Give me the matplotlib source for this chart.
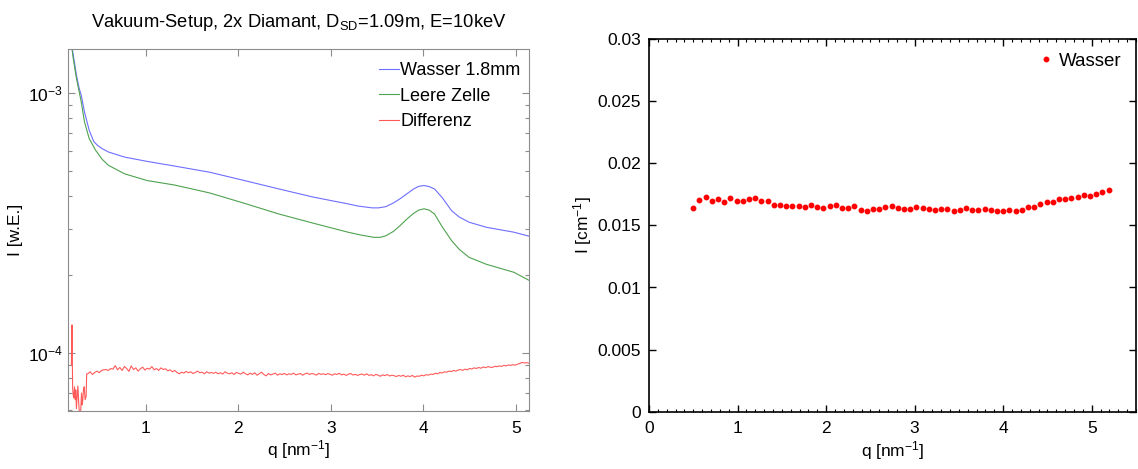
import numpy as np
import matplotlib
matplotlib.use("Agg")
import matplotlib.pyplot as plt
from matplotlib.ticker import FixedLocator, NullFormatter, MultipleLocator

plt.rcParams['font.family'] = ['Liberation Sans', 'DejaVu Sans']
plt.rcParams['mathtext.fontset'] = 'custom'
plt.rcParams['mathtext.rm'] = 'Liberation Sans'
plt.rcParams['mathtext.it'] = 'Liberation Sans'

# --- left panel: scattering curves (arbitrary units) ---
q_wasser = [0.164, 0.210, 0.251, 0.281, 0.303, 0.338, 0.389, 0.438, 0.479, 0.529,
            0.598, 0.772, 1.014, 1.31, 1.691, 2.065, 2.437, 2.812, 3.185, 3.29,
            3.446, 3.513, 3.594, 3.675, 3.745, 3.817, 3.894, 3.949, 4.006, 4.061,
            4.119, 4.203, 4.304, 4.386, 4.492, 4.679, 4.977, 5.14]
i_wasser = [1.9e-3, 1.45e-3, 1.17e-3, 1.04e-3, 9.8e-4, 8.44e-4, 7.18e-4, 6.5e-4, 6.28e-4, 6.1e-4,
            5.92e-4, 5.66e-4, 5.45e-4, 5.23e-4, 4.95e-4, 4.60e-4, 4.27e-4, 3.97e-4, 3.74e-4, 3.67e-4,
            3.61e-4, 3.61e-4, 3.65e-4, 3.77e-4, 3.91e-4, 4.08e-4, 4.27e-4, 4.37e-4, 4.40e-4, 4.36e-4,
            4.27e-4, 3.95e-4, 3.52e-4, 3.33e-4, 3.18e-4, 3.04e-4, 2.91e-4, 2.81e-4]

q_leer = [0.164, 0.216, 0.251, 0.303, 0.338, 0.389, 0.459, 0.529, 0.598, 0.772,
          1.014, 1.311, 1.691, 2.065, 2.437, 2.812, 3.185, 3.32, 3.466,
          3.533, 3.594, 3.675, 3.745, 3.817, 3.894, 3.949, 4.006, 4.061, 4.119,
          4.203, 4.304, 4.386, 4.492, 4.679, 4.977, 5.14]
i_leer = [1.9e-3, 1.36e-3, 1.137e-3, 9.23e-4, 7.73e-4, 6.67e-4, 6.01e-4, 5.55e-4, 5.26e-4, 4.88e-4,
          4.60e-4, 4.42e-4, 4.12e-4, 3.76e-4, 3.42e-4, 3.15e-4, 2.91e-4, 2.84e-4, 2.78e-4,
          2.78e-4, 2.82e-4, 2.93e-4, 3.08e-4, 3.26e-4, 3.44e-4, 3.54e-4, 3.58e-4, 3.54e-4, 3.42e-4,
          3.05e-4, 2.70e-4, 2.50e-4, 2.33e-4, 2.19e-4, 2.04e-4, 1.90e-4]

# difference curve, noisy low-q part (units of 1e-5)
q_diff_low = [0.197, 0.203, 0.210, 0.216, 0.223, 0.230, 0.237, 0.244, 0.251, 0.259,
              0.267, 0.276, 0.285, 0.296, 0.306, 0.313, 0.320, 0.327, 0.335, 0.345,
              0.356, 0.362]
d_low = [9.0, 12.8, 7.3, 6.9, 6.7, 7.4, 6.6, 7.2, 6.1, 6.8,
         7.45, 6.4, 5.7, 5.85, 7.0, 6.3, 6.6, 7.2, 7.4, 6.6,
         6.8, 8.3]
# difference curve on a regular q grid from 0.374 to 5.14, units of 1e-5
d_main = [8.30, 8.45, 8.25, 8.40, 8.50, 8.38, 8.55, 8.60,
          8.62, 8.55, 8.70, 8.65, 8.92, 8.60, 8.78, 8.55, 8.85, 8.70, 8.48, 8.90, 8.62, 8.75, 8.50, 8.68,
          8.80, 8.58, 8.72, 8.65, 8.85, 8.60, 8.70, 8.55, 8.75, 8.62, 8.68, 8.52, 8.60, 8.45, 8.55, 8.40,
          8.30, 8.42, 8.35, 8.48, 8.38, 8.45, 8.32, 8.40, 8.50, 8.38, 8.42, 8.30, 8.45, 8.35, 8.40, 8.33,
          8.42, 8.30, 8.38, 8.28, 8.45, 8.35, 8.30, 8.38, 8.25, 8.40, 8.33, 8.28, 8.42, 8.30, 8.22, 8.35,
          8.25, 8.38, 8.20, 8.30, 8.42, 8.25, 8.15, 8.32, 8.22, 8.28, 8.35, 8.20, 8.30, 8.25, 8.33, 8.22,
          8.30, 8.25, 8.35, 8.22, 8.28, 8.32, 8.20, 8.30, 8.35, 8.25, 8.32, 8.28, 8.20, 8.33, 8.26, 8.30,
          8.24, 8.32, 8.26, 8.20, 8.30, 8.25, 8.34, 8.22, 8.28, 8.18, 8.27, 8.32, 8.21, 8.26, 8.18, 8.25,
          8.28, 8.20, 8.30, 8.18, 8.24, 8.15, 8.26, 8.20, 8.12, 8.22, 8.17, 8.25, 8.14, 8.20, 8.16, 8.10,
          8.18, 8.12, 8.20, 8.08, 8.15, 8.10, 8.18, 8.06, 8.14, 8.12, 8.20, 8.15, 8.24, 8.20, 8.28, 8.25,
          8.34, 8.30, 8.40, 8.36, 8.45, 8.42, 8.50, 8.46, 8.55, 8.50, 8.58, 8.62, 8.56, 8.65, 8.60, 8.70,
          8.66, 8.75, 8.70, 8.78, 8.72, 8.82, 8.76, 8.85, 8.80, 8.78, 8.88, 8.84, 8.90, 8.86, 8.95, 8.90,
          8.98, 8.94, 9.00, 8.96, 9.04, 9.10, 9.18, 9.14, 9.16, 9.12]

# --- right panel: absolute intensity of water ---
q_abs = [0.50, 0.57, 0.64, 0.71, 0.78, 0.85, 0.92, 0.99, 1.06, 1.13,
         1.20, 1.27, 1.34, 1.41, 1.48, 1.55, 1.62, 1.69, 1.76, 1.83,
         1.90, 1.97, 2.04, 2.11, 2.18, 2.25, 2.32, 2.39, 2.46, 2.53,
         2.60, 2.67, 2.74, 2.81, 2.88, 2.95, 3.02, 3.09, 3.16, 3.23,
         3.30, 3.37, 3.44, 3.51, 3.58, 3.65, 3.72, 3.79, 3.86, 3.93,
         4.00, 4.07, 4.14, 4.21, 4.28, 4.35, 4.42, 4.49, 4.56, 4.63,
         4.70, 4.77, 4.84, 4.91, 4.98, 5.05, 5.12, 5.19]
i_abs = [0.01642, 0.01704, 0.01728, 0.01696, 0.01715, 0.01690, 0.01720, 0.01696, 0.01696, 0.01710,
         0.01718, 0.01698, 0.01698, 0.01664, 0.01669, 0.01658, 0.01658, 0.01661, 0.01650, 0.01664,
         0.01650, 0.01640, 0.01658, 0.01664, 0.01642, 0.01640, 0.01661, 0.01629, 0.01618, 0.01637,
         0.01631, 0.01648, 0.01656, 0.01642, 0.01631, 0.01631, 0.01653, 0.01645, 0.01634, 0.01629,
         0.01637, 0.01637, 0.01618, 0.01621, 0.01640, 0.01629, 0.01621, 0.01631, 0.01621, 0.01618,
         0.01618, 0.01621, 0.01613, 0.01629, 0.01650, 0.01653, 0.01674, 0.01688, 0.01688, 0.01710,
         0.01710, 0.01718, 0.01730, 0.01745, 0.01738, 0.01755, 0.01770, 0.01785]

q_diff = np.concatenate([q_diff_low, np.linspace(0.374, 5.14, len(d_main))])
i_diff = np.concatenate([d_low, d_main]) * 1e-5

W, H = 1138, 469
fig = plt.figure(figsize=(W / 100, H / 100), dpi=100)

def frac(x0, x1, ytop, ybot):
    return [x0 / W, 1 - ybot / H, (x1 - x0) / W, (ybot - ytop) / H]

FS = 12.5

# left axes
ax1 = fig.add_axes(frac(68, 529, 49, 411))
ax1.plot(q_wasser, i_wasser, color='#6e6eff', lw=0.8, label='Wasser 1.8mm')
ax1.plot(q_leer, i_leer, color='#4fa24f', lw=0.8, label='Leere Zelle')
ax1.plot(q_diff, i_diff, color='#ff5a5a', lw=0.8, label='Differenz')
ax1.set_yscale('log')
ax1.set_xlim(0.16, 5.14)
ax1.set_ylim(5.97e-5, 1.475e-3)
ax1.set_xticks([1, 2, 3, 4, 5])
ax1.set_xticklabels(['1', '2', '3', '4', '5'])
ax1.yaxis.set_major_locator(FixedLocator([1e-4, 1e-3]))
ax1.set_yticklabels(['$10^{-4}$', '$10^{-3}$'])
minor = [m * 1e-5 for m in range(6, 10)] + [m * 1e-4 for m in range(2, 10)]
ax1.yaxis.set_minor_locator(FixedLocator(minor))
ax1.yaxis.set_minor_formatter(NullFormatter())
for s in ax1.spines.values():
    s.set_color('#8c8c8c')
    s.set_linewidth(0.8)
ax1.tick_params(which='both', direction='in', top=True, right=True,
                color='#8c8c8c', labelcolor='black', labelsize=FS)
ax1.tick_params(which='major', length=5, width=0.8)
ax1.tick_params(which='minor', length=3, width=0.8)
ax1.tick_params(axis='x', pad=7)
ax1.set_xlabel('q [nm$^{-1}$]', fontsize=FS, labelpad=2)
ax1.set_ylabel('I [w.E.]', fontsize=FS, labelpad=4)
ax1.set_title('Vakuum-Setup, 2x Diamant, D$_{SD}$=1.09m, E=10keV', fontsize=13.2, pad=16)
ax1.legend(loc='upper right', bbox_to_anchor=(0.982, 0.964), frameon=False,
           fontsize=13, handlelength=1.1, handletextpad=0.1,
           labelspacing=0.47, borderpad=0, borderaxespad=0)

# right axes
ax2 = fig.add_axes(frac(649, 1136, 39.5, 411.5))
ax2.plot(q_abs, i_abs, linestyle='none', marker='o', ms=3.2, color='red',
         mec='red', label='Wasser')
ax2.set_xlim(0, 5.5)
ax2.set_ylim(0, 0.03)
ax2.set_xticks([0, 1, 2, 3, 4, 5])
ax2.xaxis.set_minor_locator(MultipleLocator(0.1))
ax2.set_yticks([0, 0.005, 0.01, 0.015, 0.02, 0.025, 0.03])
ax2.set_yticklabels(['0', '0.005', '0.01', '0.015', '0.02', '0.025', '0.03'])
for s in ax2.spines.values():
    s.set_color('black')
    s.set_linewidth(1.2)
ax2.tick_params(which='both', direction='in', top=True, right=True, labelsize=FS)
ax2.tick_params(which='major', length=5, width=1.0)
ax2.tick_params(which='minor', length=2.5, width=0.8)
ax2.tick_params(axis='x', pad=7)
ax2.tick_params(axis='y', pad=5.5)
ax2.set_xlabel('q [nm$^{-1}$]', fontsize=FS, labelpad=2)
ax2.set_ylabel('I [cm$^{-1}$]', fontsize=FS, labelpad=3)
ax2.legend(loc='upper right', bbox_to_anchor=(0.971, 0.965), frameon=False,
           fontsize=13.5, handlelength=0.6, handletextpad=0.4,
           borderpad=0, borderaxespad=0)

fig.savefig('out.png', dpi=100)
